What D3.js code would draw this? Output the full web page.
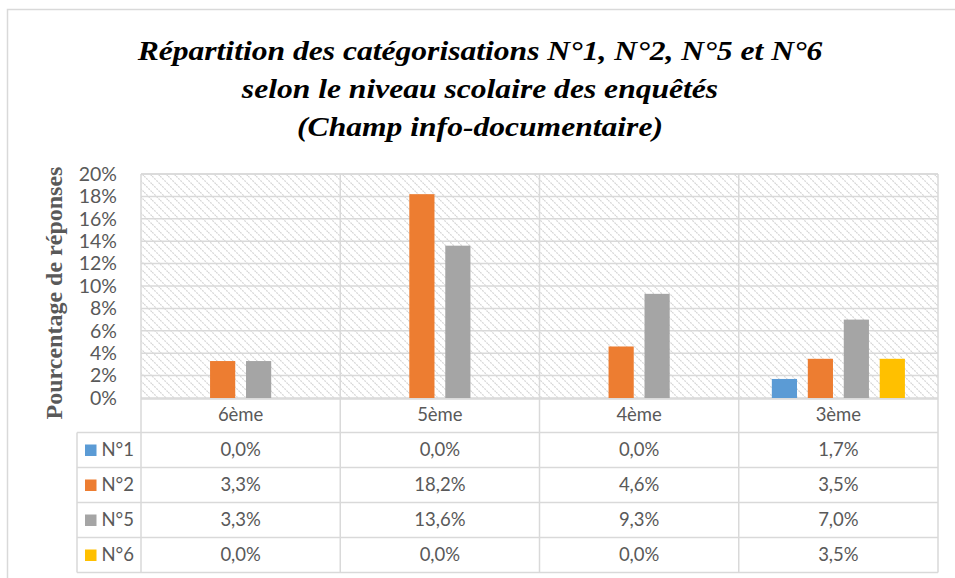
<!DOCTYPE html>
<html><head><meta charset="utf-8">
<script src="https://cdn.jsdelivr.net/npm/d3@7"></script>
<style>body{margin:0;background:#fff}svg{display:block}
.serif{font-family:"Liberation Serif","Times New Roman",Tinos,"DejaVu Serif",serif;}
</style>
</head><body>
<svg id="c" width="955" height="578"></svg>
<script>
const categories = ["6ème","5ème","4ème","3ème"];
const seriesNames = ["N°1","N°2","N°5","N°6"];
const seriesColors = ["#5b9bd5","#ed7d31","#a5a5a5","#ffc000"];
const n1 = [0.0, 0.0, 0.0, 1.7];
const n2 = [3.3, 18.2, 4.6, 3.5];
const n5 = [3.3, 13.6, 9.3, 7.0];
const n6 = [0.0, 0.0, 0.0, 3.5];
const yTicks = [0,2,4,6,8,10,12,14,16,18,20];
const titleLines = ["Répartition des catégorisations N°1, N°2, N°5 et N°6","selon le niveau scolaire des enquêtés","(Champ info-documentaire)"];
const yLabel = "Pourcentage de réponses";

const values = [n1,n2,n5,n6];
const svg = d3.select("#c");
const grid = "#d9d9d9";
const txt = "#595959";
const font = "Lato, 'Open Sans', sans-serif";

const L=141, R=938, T=174, B=398;
const rowH = 35, headerH = 34.5;
const legL = 77;

svg.append("path").attr("d","M7.5,600 L7.5,9.5 L960,9.5").attr("fill","none").attr("stroke","#d9d9d9").attr("stroke-width",1.5);

const defs = svg.append("defs");
const pat = defs.append("pattern").attr("id","hatch").attr("patternUnits","userSpaceOnUse").attr("width",8).attr("height",8);
pat.append("path").attr("d","M-2,-2 L10,10 M-2,6 L2,10 M6,-2 L10,2").attr("stroke","#d6d6d6").attr("stroke-width",1.2).attr("stroke-dasharray","2,1");

const x0 = d3.scaleBand().domain(categories).range([L,R]);
const x1 = d3.scaleBand().domain(seriesNames).range([0,x0.bandwidth()]).paddingInner(0.3).paddingOuter(0.92);
const y = d3.scaleLinear().domain([0,20]).range([B,T]);

svg.append("rect").attr("x",L).attr("y",T).attr("width",R-L).attr("height",B-T).attr("fill","url(#hatch)");

svg.append("g").selectAll("line").data(yTicks).join("line")
  .attr("x1",L).attr("x2",R).attr("y1",d=>y(d)).attr("y2",d=>y(d))
  .attr("stroke",grid).attr("stroke-width",1.5);

const yAxis = d3.axisLeft(y).tickValues(yTicks).tickFormat(d=>d+"%").tickSize(0).tickPadding(24);
const ga = svg.append("g").attr("transform",`translate(${L},0)`).call(yAxis);
ga.select(".domain").remove();
ga.selectAll("text").attr("fill",txt).style("font-family",font).style("font-size","19.5px");

const gb = svg.append("g");
categories.forEach((c,i)=>{
  seriesNames.forEach((s,j)=>{
    const v = values[j][i];
    gb.append("rect").attr("x",x0(c)+x1(s)).attr("width",x1.bandwidth())
      .attr("y",y(v)).attr("height",B-y(v)).attr("fill",seriesColors[j]);
  });
});

const tableBottom = B + headerH + rowH*seriesNames.length;
const gt = svg.append("g");
[L, ...categories.map(c=>x0(c)+x0.bandwidth())].forEach(xv=>{
  gt.append("line").attr("x1",xv).attr("x2",xv).attr("y1",T).attr("y2",tableBottom).attr("stroke",grid).attr("stroke-width",1.5);
});
gt.append("line").attr("x1",legL).attr("x2",legL).attr("y1",B+headerH).attr("y2",tableBottom).attr("stroke",grid).attr("stroke-width",1.5);
gt.append("line").attr("x1",L).attr("x2",R).attr("y1",T).attr("y2",T).attr("stroke",grid).attr("stroke-width",1.5);
gt.append("line").attr("x1",L).attr("x2",R).attr("y1",B+1).attr("y2",B+1).attr("stroke",grid).attr("stroke-width",1.5);
for(let k=0;k<=seriesNames.length;k++){
  const yy = B+headerH+rowH*k;
  gt.append("line").attr("x1",legL).attr("x2",R).attr("y1",yy).attr("y2",yy).attr("stroke",grid).attr("stroke-width",1.5);
}
const fs = "18.5px";
categories.forEach(c=>{
  gt.append("text").attr("x",x0(c)+x0.bandwidth()/2).attr("y",B+headerH/2+1).attr("text-anchor","middle").attr("dominant-baseline","middle")
    .attr("fill",txt).style("font-family",font).style("font-size",fs).text(c);
});
seriesNames.forEach((s,j)=>{
  const cy = B+headerH+rowH*j+rowH/2;
  gt.append("rect").attr("x",85).attr("y",cy-5.5).attr("width",11.5).attr("height",11.5).attr("fill",seriesColors[j]);
  gt.append("text").attr("x",101.5).attr("y",cy+1).attr("dominant-baseline","middle").attr("fill",txt).style("font-family",font).style("font-size",fs).text(s);
  categories.forEach((c,i)=>{
    gt.append("text").attr("x",x0(c)+x0.bandwidth()/2).attr("y",cy+1).attr("text-anchor","middle").attr("dominant-baseline","middle")
      .attr("fill",txt).style("font-family",font).style("font-size",fs).text(values[j][i].toFixed(1).replace(".",",")+"%");
  });
});

titleLines.forEach((t,i)=>{
  svg.append("text").attr("class","serif").attr("transform",`translate(480,${60+i*38}) scale(1.17,1)`).attr("text-anchor","middle")
    .attr("font-weight","bold").attr("font-style","italic").attr("font-size",27)
    .attr("fill","#000").text(t);
});

svg.append("text").attr("class","serif").attr("transform","translate(62,293) rotate(-90)").attr("text-anchor","middle")
  .attr("font-weight","bold").attr("font-size",24)
  .attr("fill","#595959").text(yLabel);
</script>
</body></html>
